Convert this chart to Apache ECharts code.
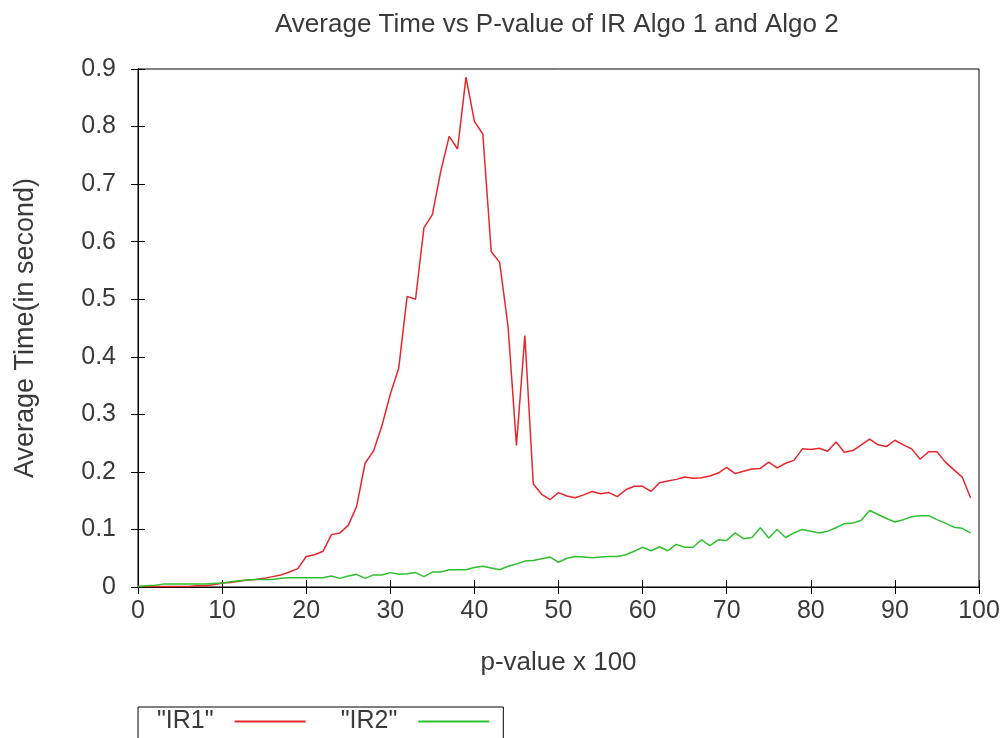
<!DOCTYPE html>
<html>
<head>
<meta charset="utf-8">
<title>Average Time vs P-value</title>
<script src="https://cdn.jsdelivr.net/npm/echarts@6/dist/echarts.min.js"></script>
<style>
  html, body { margin: 0; padding: 0; background: #fff; }
  #chart { width: 1004px; height: 738px; }
</style>
</head>
<body>
<div id="chart"></div>
<script>
// p-value x 100 for each measurement
const pValues = [
  0, 1, 2, 3, 4, 5, 6, 7, 8, 9,
  10, 11, 12, 13, 14, 15, 16, 17, 18, 19,
  20, 21, 22, 23, 24, 25, 26, 27, 28, 29,
  30, 31, 32, 33, 34, 35, 36, 37, 38, 39,
  40, 41, 42, 43, 44, 45, 46, 47, 48, 49,
  50, 51, 52, 53, 54, 55, 56, 57, 58, 59,
  60, 61, 62, 63, 64, 65, 66, 67, 68, 69,
  70, 71, 72, 73, 74, 75, 76, 77, 78, 79,
  80, 81, 82, 83, 84, 85, 86, 87, 88, 89,
  90, 91, 92, 93, 94, 95, 96, 97, 98, 99
];

// Average time (s), IR Algo 1
const ir1Times = [
  0.001, 0.001, 0.001, 0.001, 0.001, 0.001, 0.001, 0.002, 0.002, 0.004,
  0.007, 0.008, 0.010, 0.012, 0.013, 0.015, 0.018, 0.021, 0.026, 0.032,
  0.053, 0.056, 0.062, 0.091, 0.094, 0.107, 0.140, 0.215, 0.236, 0.280,
  0.335, 0.380, 0.505, 0.500, 0.624, 0.647, 0.722, 0.783, 0.761, 0.886,
  0.809, 0.787, 0.583, 0.564, 0.453, 0.246, 0.437, 0.179, 0.161, 0.152,
  0.164, 0.158, 0.155, 0.160, 0.166, 0.162, 0.164, 0.157, 0.169, 0.175,
  0.175, 0.166, 0.181, 0.184, 0.187, 0.191, 0.189, 0.190, 0.193, 0.198,
  0.208, 0.197, 0.201, 0.205, 0.206, 0.217, 0.207, 0.215, 0.220, 0.240,
  0.239, 0.241, 0.236, 0.252, 0.234, 0.237, 0.247, 0.257, 0.247, 0.244,
  0.255, 0.247, 0.240, 0.222, 0.235, 0.235, 0.217, 0.204, 0.191, 0.155
];

// Average time (s), IR Algo 2
const ir2Times = [
  0.001, 0.002, 0.003, 0.005, 0.005, 0.005, 0.005, 0.005, 0.005, 0.006,
  0.007, 0.009, 0.011, 0.012, 0.013, 0.013, 0.013, 0.015, 0.016, 0.016,
  0.016, 0.016, 0.016, 0.019, 0.015, 0.019, 0.022, 0.015, 0.021, 0.021,
  0.025, 0.022, 0.023, 0.025, 0.018, 0.026, 0.026, 0.030, 0.030, 0.030,
  0.034, 0.036, 0.033, 0.030, 0.036, 0.040, 0.045, 0.046, 0.049, 0.052,
  0.043, 0.050, 0.053, 0.052, 0.051, 0.052, 0.053, 0.053, 0.056, 0.062,
  0.069, 0.063, 0.070, 0.063, 0.074, 0.069, 0.069, 0.082, 0.072, 0.082,
  0.081, 0.094, 0.084, 0.086, 0.103, 0.085, 0.100, 0.086, 0.094, 0.100,
  0.097, 0.094, 0.097, 0.103, 0.110, 0.111, 0.116, 0.133, 0.126, 0.119,
  0.113, 0.117, 0.122, 0.124, 0.124, 0.117, 0.111, 0.104, 0.102, 0.094
];

const seriesNames = ['"IR1"', '"IR2"'];

const FONT = 'Liberation Sans';
const TEXT = '#3a3a3a';

const toPairs = (ys) => pValues.map((x, i) => [x, ys[i]]);

const chart = echarts.init(document.getElementById('chart'), null, { renderer: 'canvas' });

const axisTick = { show: true, inside: true, length: 7, lineStyle: { color: '#000', width: 1 } };

chart.setOption({
  animation: false,
  backgroundColor: '#fff',
  textStyle: { fontFamily: FONT },
  title: {
    text: 'Average Time vs P-value of IR Algo 1 and Algo 2',
    left: 270,
    top: 7,
    textStyle: { fontFamily: FONT, fontSize: 26, fontWeight: 'normal', color: TEXT }
  },
  grid: {
    left: 138, right: 25, top: 69, bottom: 151,
    show: true, borderColor: '#000', borderWidth: 1, backgroundColor: 'transparent'
  },
  legend: {
    left: 138,
    top: 707,
    orient: 'horizontal',
    align: 'right',
    icon: 'rect',
    itemWidth: 71,
    itemHeight: 2,
    itemGap: 35,
    padding: [2, 14, 12, 19],
    borderColor: '#000',
    borderWidth: 1,
    selectedMode: false,
    textStyle: { fontFamily: FONT, fontSize: 25, color: TEXT, padding: [0, 16, 0, 0] },
    data: seriesNames
  },
  xAxis: [
    {
      type: 'value', min: 0, max: 100, interval: 10, position: 'bottom',
      name: 'p-value x 100', nameLocation: 'middle', nameGap: 63,
      nameTextStyle: { fontFamily: FONT, fontSize: 26, color: TEXT },
      axisLine: { show: true, lineStyle: { color: '#000', width: 1 } },
      axisTick: axisTick,
      axisLabel: { margin: 12, fontFamily: FONT, fontSize: 25, color: TEXT },
      splitLine: { show: false }
    },
    {
      type: 'value', min: 0, max: 100, interval: 10, position: 'top',
      axisLine: { show: true, lineStyle: { color: '#000', width: 1 } },
      axisTick: axisTick,
      axisLabel: { show: false },
      splitLine: { show: false }
    }
  ],
  yAxis: [
    {
      type: 'value', min: 0, max: 0.9, interval: 0.1, position: 'left',
      name: 'Average Time(in second)', nameLocation: 'middle', nameGap: 99,
      nameTextStyle: { fontFamily: FONT, fontSize: 27, color: TEXT },
      axisLine: { show: true, lineStyle: { color: '#000', width: 1 } },
      axisTick: axisTick,
      axisLabel: { margin: 22, fontFamily: FONT, fontSize: 25, color: TEXT },
      splitLine: { show: false }
    },
    {
      type: 'value', min: 0, max: 0.9, interval: 0.1, position: 'right',
      axisLine: { show: true, lineStyle: { color: '#000', width: 1 } },
      axisTick: axisTick,
      axisLabel: { show: false },
      splitLine: { show: false }
    }
  ],
  series: [
    {
      name: seriesNames[0], type: 'line', xAxisIndex: 0, yAxisIndex: 0,
      data: toPairs(ir1Times), showSymbol: false, symbol: 'none',
      lineStyle: { color: '#e8262b', width: 1.5 }, itemStyle: { color: '#e8262b' }
    },
    {
      name: seriesNames[1], type: 'line', xAxisIndex: 0, yAxisIndex: 0,
      data: toPairs(ir2Times), showSymbol: false, symbol: 'none',
      lineStyle: { color: '#2fbf2f', width: 1.5 }, itemStyle: { color: '#2fbf2f' }
    }
  ]
});
</script>
</body>
</html>
